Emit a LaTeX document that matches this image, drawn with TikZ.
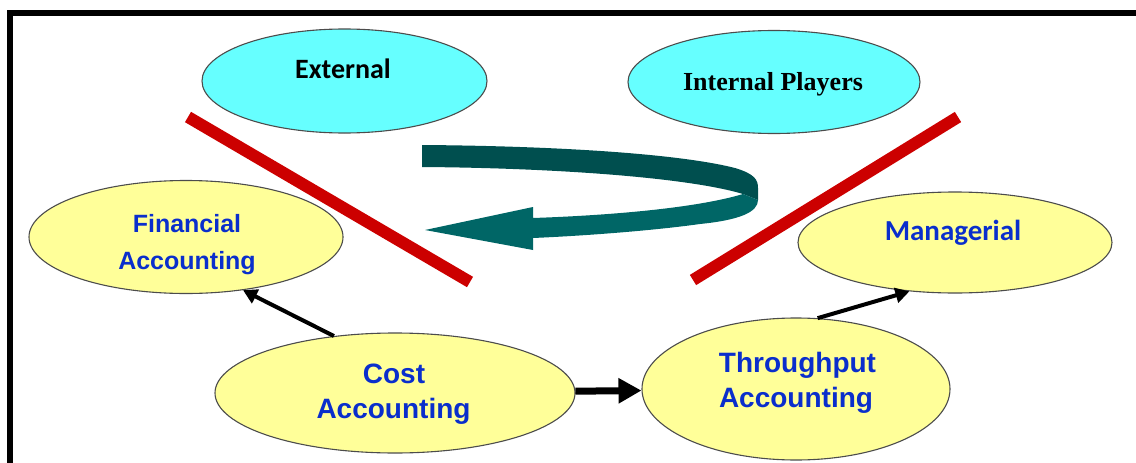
\documentclass[tikz,border=0pt]{standalone}
\usepackage{fontspec}
\usetikzlibrary{shapes.geometric,arrows.meta}
\newfontfamily\fcarl{Carlito}
\newfontfamily\fsans{Liberation Sans}
\newfontfamily\fserif{Liberation Serif}
\definecolor{cyanfill}{HTML}{66FFFF}
\definecolor{yelfill}{HTML}{FFFF99}
\definecolor{txtblue}{HTML}{0A2ECC}
\definecolor{redbar}{HTML}{CC0000}
\definecolor{tealdark}{HTML}{004F4F}
\definecolor{teallight}{HTML}{006666}
\begin{document}
\begin{tikzpicture}[x=1pt,y=-1pt,
 ell/.style={ellipse,draw=black!70,line width=1.1pt,inner sep=0pt},
 cyanell/.style={ell,fill=cyanfill},
 yelell/.style={ell,fill=yelfill},
 lbl/.style={anchor=base,inner sep=0pt,text=txtblue},
 bar/.style={draw=redbar,line width=12pt},
 conn/.style={draw=black,line width=4pt,-{Triangle[length=14pt,width=15pt]}}
]
\useasboundingbox (0,0) rectangle (1136,463);
\draw[line width=6pt] (10,475) -- (10,12.7) -- (1150,12.7);

% ellipses
\node[cyanell,minimum width=285pt,minimum height=104pt] (ext) at (344.5,81) {};
\node[cyanell,minimum width=292pt,minimum height=103pt] (int) at (774,82) {};
\node[yelell,minimum width=314pt,minimum height=113pt] (fin) at (186,237) {};
\node[yelell,minimum width=360pt,minimum height=120pt] (cost) at (395,393) {};
\node[yelell,minimum width=308pt,minimum height=142pt] (thr) at (796,389) {};
\node[yelell,minimum width=314pt,minimum height=101pt] (man) at (955,242.5) {};

% labels
\node[lbl,text=black,font=\fcarl\bfseries\fontsize{28}{28}\selectfont] (text-ext) at (343,78) {External};
\node[lbl,text=black,font=\fserif\bfseries\fontsize{26}{26}\selectfont] (text-int) at (773,90) {Internal Players};
\node[lbl,font=\fsans\bfseries\fontsize{25}{25}\selectfont] (text-fin1) at (187,232) {Financial};
\node[lbl,font=\fsans\bfseries\fontsize{25}{25}\selectfont] (text-fin2) at (187,269) {Accounting};
\node[lbl,font=\fsans\bfseries\fontsize{28}{28}\selectfont] (text-cost1) at (394,383) {Cost};
\node[lbl,font=\fsans\bfseries\fontsize{28}{28}\selectfont] (text-cost2) at (393.5,418) {Accounting};
\node[lbl,font=\fsans\bfseries\fontsize{28}{28}\selectfont] (text-thr1) at (797.5,372) {Throughput};
\node[lbl,font=\fsans\bfseries\fontsize{28}{28}\selectfont] (text-thr2) at (796,407) {Accounting};
\node[lbl,font=\fcarl\bfseries\fontsize{29}{29}\selectfont] (text-man) at (953,240) {Managerial};

% red bars
\draw[bar] (188,117) -- (470,282);
\draw[bar] (693,280) -- (958,117);

% teal curved arrow
\fill[tealdark] (422,145) .. controls (560,146) and (680,154) .. (735,168)
  .. controls (755,174) and (758,180) .. (758,188) -- (758,200) -- (743,194)
  .. controls (690,178) and (560,168) .. (422,167) -- cycle;
\fill[teallight] (743,194) -- (758,200) .. controls (758,212) and (740,220) .. (700,224)
  .. controls (650,231) and (580,236) .. (533,238) -- (533,250) -- (425,230) -- (533,207)
  -- (533,218) .. controls (620,215) and (700,207) .. (743,194) -- cycle;

% connectors
\draw[conn] (cost.137) -- (fin.-43);
\draw[conn,line width=7pt,-{Triangle[length=23pt,width=24pt]}] (cost) -- (thr);
\draw[conn] (thr.73) -- (man.-133);
\end{tikzpicture}
\end{document}
